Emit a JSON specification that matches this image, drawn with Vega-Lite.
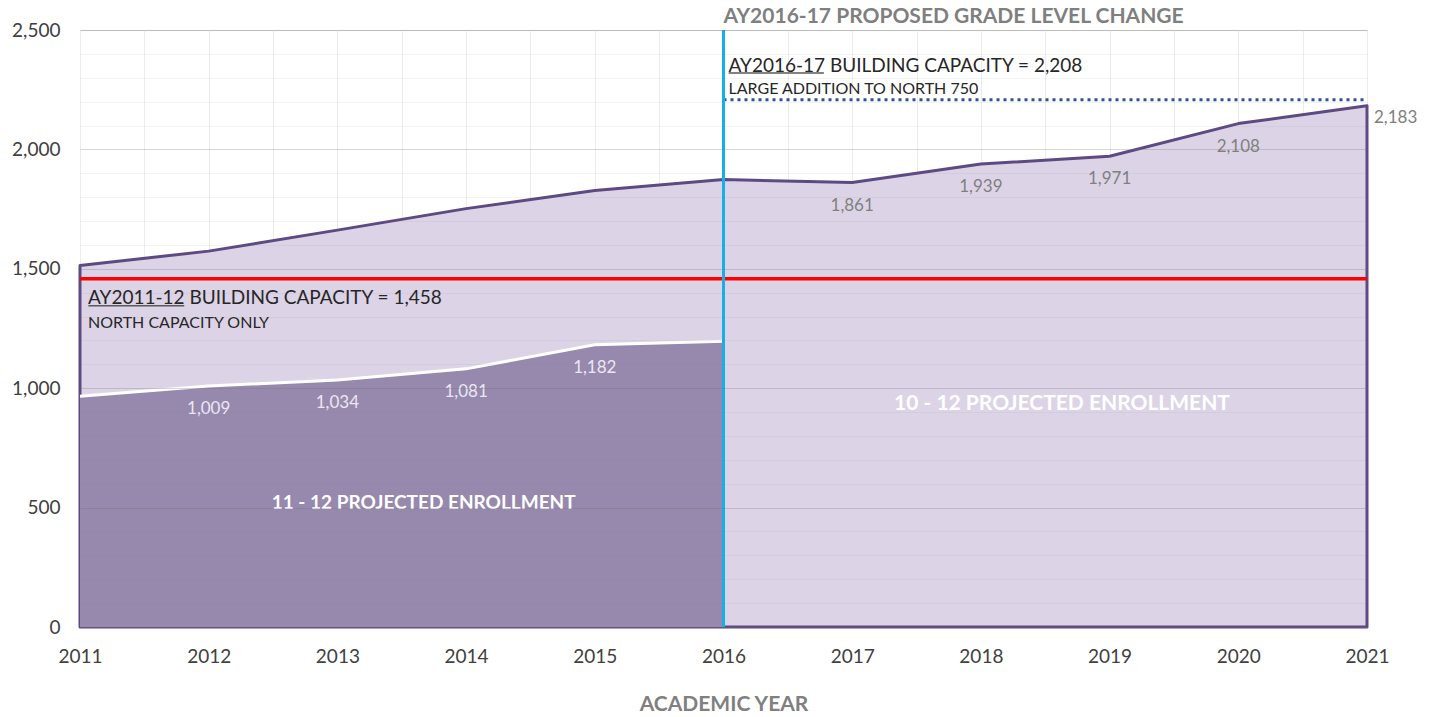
{
  "$schema": "https://vega.github.io/schema/vega-lite/v6.json",
  "width": 1287,
  "height": 597,
  "autosize": "none",
  "padding": {"left": 80, "top": 30, "right": 66, "bottom": 90},
  "background": "white",
  "config": {
    "view": {"stroke": "#d9d9d9", "strokeWidth": 1},
    "font": "Lato"
  },
  "datasets": {
    "total": [
      {"year": 2011, "enrollment": 1514},
      {"year": 2012, "enrollment": 1574},
      {"year": 2013, "enrollment": 1662},
      {"year": 2014, "enrollment": 1752},
      {"year": 2015, "enrollment": 1828},
      {"year": 2016, "enrollment": 1874},
      {"year": 2017, "enrollment": 1861},
      {"year": 2018, "enrollment": 1939},
      {"year": 2019, "enrollment": 1971},
      {"year": 2020, "enrollment": 2108},
      {"year": 2021, "enrollment": 2183}
    ],
    "grades1112": [
      {"year": 2011, "enrollment": 966},
      {"year": 2012, "enrollment": 1009},
      {"year": 2013, "enrollment": 1034},
      {"year": 2014, "enrollment": 1081},
      {"year": 2015, "enrollment": 1182},
      {"year": 2016, "enrollment": 1197}
    ],
    "one": [{}]
  },
  "layer": [
    {
      "data": {"name": "total"},
      "mark": {"type": "area", "fill": "#dcd4e6", "stroke": "#5d4a82", "strokeWidth": 3, "strokeJoin": "round"},
      "encoding": {
        "x": {
          "field": "year", "type": "quantitative",
          "scale": {"domain": [2011, 2021], "nice": false, "zero": false},
          "axis": {
            "values": [2011, 2011.5, 2012, 2012.5, 2013, 2013.5, 2014, 2014.5, 2015, 2015.5, 2016, 2016.5, 2017, 2017.5, 2018, 2018.5, 2019, 2019.5, 2020, 2020.5, 2021],
            "tickCount": 40,
            "labelExpr": "datum.value % 1 === 0 ? toString(datum.value) : ''",
            "labelOverlap": false,
            "labelFlush": false,
            "title": "ACADEMIC YEAR",
            "grid": true,
            "gridColor": "#ececec",
            "ticks": false,
            "domain": true,
            "domainColor": "#d9d9d9",
            "labelFontSize": 19,
            "labelColor": "#404040",
            "labelPadding": 20,
            "titleFontSize": 21,
            "titleColor": "#808080",
            "titleFontWeight": "bold",
            "titlePadding": 27,
            "zindex": 0
          }
        },
        "y": {
          "field": "enrollment", "type": "quantitative",
          "scale": {"domain": [0, 2500], "nice": false},
          "axis": {
            "values": [0, 100, 200, 300, 400, 500, 600, 700, 800, 900, 1000, 1100, 1200, 1300, 1400, 1500, 1600, 1700, 1800, 1900, 2000, 2100, 2200, 2300, 2400, 2500],
            "tickCount": 40,
            "labelExpr": "datum.value % 500 === 0 ? format(datum.value, ',') : ''",
            "labelOverlap": false,
            "labelBound": false,
            "title": null,
            "grid": true,
            "gridColor": {"condition": {"test": "datum.value % 500 === 0", "value": "rgba(110,110,110,0.28)"}, "value": "rgba(110,110,110,0.08)"},
            "ticks": false,
            "domain": false,
            "labelFontSize": 19,
            "labelColor": "#404040",
            "labelPadding": 20,
            "zindex": 1
          }
        }
      }
    },
    {
      "data": {"name": "grades1112"},
      "mark": {"type": "area", "fill": "#9789ae"},
      "encoding": {
        "x": {"field": "year", "type": "quantitative"},
        "y": {"field": "enrollment", "type": "quantitative"}
      }
    },
    {
      "data": {"name": "grades1112"},
      "mark": {"type": "line", "stroke": "#ffffff", "strokeWidth": 3},
      "encoding": {
        "x": {"field": "year", "type": "quantitative"},
        "y": {"field": "enrollment", "type": "quantitative"}
      }
    },
    {
      "data": {"name": "one"},
      "mark": {"type": "rule", "stroke": "#ff0000", "strokeWidth": 3.5},
      "encoding": {"y": {"datum": 1458}}
    },
    {
      "data": {"name": "one"},
      "mark": {"type": "rule", "stroke": "#2f5496", "strokeWidth": 3, "strokeDash": [3, 4]},
      "encoding": {"x": {"datum": 2016}, "x2": {"datum": 2021}, "y": {"datum": 2208}}
    },
    {
      "data": {"name": "one"},
      "mark": {"type": "rule", "stroke": "#15b0ea", "strokeWidth": 3},
      "encoding": {"x": {"datum": 2016}}
    },
    {
      "data": {"name": "one"},
      "mark": {"type": "rule", "stroke": "#595959", "strokeWidth": 1.5},
      "encoding": {"x": {"datum": 2016.04}, "x2": {"datum": 2016.78}, "y": {"datum": 2320}}
    },
    {
      "data": {"name": "one"},
      "mark": {"type": "rule", "stroke": "#595959", "strokeWidth": 1.5},
      "encoding": {"x": {"datum": 2011.065}, "x2": {"datum": 2011.81}, "y": {"datum": 1345}}
    },
    {
      "data": {"name": "total"},
      "transform": [{"filter": "datum.year >= 2017 && datum.year <= 2020"}],
      "mark": {"type": "text", "fontSize": 17, "color": "#808080", "dy": 23},
      "encoding": {
        "x": {"field": "year", "type": "quantitative"},
        "y": {"field": "enrollment", "type": "quantitative"},
        "text": {"field": "enrollment", "type": "quantitative", "format": ","}
      }
    },
    {
      "data": {"name": "total"},
      "transform": [{"filter": "datum.year === 2021"}],
      "mark": {"type": "text", "fontSize": 17, "color": "#808080", "align": "left", "dx": 7, "dy": 12},
      "encoding": {
        "x": {"field": "year", "type": "quantitative"},
        "y": {"field": "enrollment", "type": "quantitative"},
        "text": {"field": "enrollment", "type": "quantitative", "format": ","}
      }
    },
    {
      "data": {"name": "grades1112"},
      "transform": [{"filter": "datum.year >= 2012 && datum.year <= 2015"}],
      "mark": {"type": "text", "fontSize": 17, "color": "#ebe7f1", "dy": 23},
      "encoding": {
        "x": {"field": "year", "type": "quantitative"},
        "y": {"field": "enrollment", "type": "quantitative"},
        "text": {"field": "enrollment", "type": "quantitative", "format": ","}
      }
    },
    {
      "data": {"name": "one"},
      "mark": {"type": "text", "text": "AY2016-17 PROPOSED GRADE LEVEL CHANGE", "fontSize": 21, "fontWeight": "bold", "color": "#7f7f7f", "align": "left", "baseline": "middle", "dx": 0},
      "encoding": {"x": {"datum": 2016}, "y": {"datum": 2554}}
    },
    {
      "data": {"name": "one"},
      "mark": {"type": "text", "text": "AY2016-17 BUILDING CAPACITY = 2,208", "fontSize": 19, "color": "#262626", "align": "left", "baseline": "middle", "dx": 5},
      "encoding": {"x": {"datum": 2016}, "y": {"datum": 2349}}
    },
    {
      "data": {"name": "one"},
      "mark": {"type": "text", "text": "LARGE ADDITION TO NORTH 750", "fontSize": 16, "color": "#262626", "align": "left", "baseline": "middle", "dx": 5},
      "encoding": {"x": {"datum": 2016}, "y": {"datum": 2253}}
    },
    {
      "data": {"name": "one"},
      "mark": {"type": "text", "text": "AY2011-12 BUILDING CAPACITY = 1,458", "fontSize": 19, "color": "#262626", "align": "left", "baseline": "middle", "dx": 8},
      "encoding": {"x": {"datum": 2011}, "y": {"datum": 1378}}
    },
    {
      "data": {"name": "one"},
      "mark": {"type": "text", "text": "NORTH CAPACITY ONLY", "fontSize": 16, "color": "#262626", "align": "left", "baseline": "middle", "dx": 8},
      "encoding": {"x": {"datum": 2011}, "y": {"datum": 1273}}
    },
    {
      "data": {"name": "one"},
      "mark": {"type": "text", "text": "11 - 12 PROJECTED ENROLLMENT", "fontSize": 19, "fontWeight": "bold", "color": "#ffffff", "align": "center", "baseline": "middle"},
      "encoding": {"x": {"datum": 2013.67}, "y": {"datum": 519}}
    },
    {
      "data": {"name": "one"},
      "mark": {"type": "text", "text": "10 - 12 PROJECTED ENROLLMENT", "fontSize": 21, "fontWeight": "bold", "color": "#ffffff", "align": "center", "baseline": "middle"},
      "encoding": {"x": {"datum": 2018.63}, "y": {"datum": 934}}
    }
  ]
}
